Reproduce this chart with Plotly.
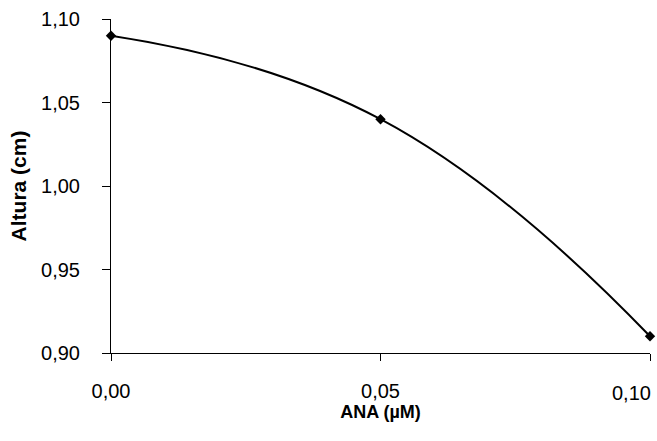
import plotly.graph_objects as go

ana = [0.00, 0.05, 0.10]
altura = [1.09, 1.04, 0.91]
x_ticks = [0.00, 0.05, 0.10]
x_labels = ["0,00", "0,05", ""]
y_ticks = [0.90, 0.95, 1.00, 1.05, 1.10]

fig = go.Figure()
fig.add_trace(go.Scatter(
    x=ana, y=altura, mode="lines+markers",
    line=dict(color="black", width=2, shape="spline", smoothing=1.3),
    marker=dict(symbol="diamond", size=8, color="black"),
    showlegend=False, cliponaxis=False,
))

font = dict(family="Liberation Sans, Arial, sans-serif", color="black")
fig.update_layout(
    template="none",
    width=657, height=441,
    margin=dict(l=111, r=7, t=19, b=88),
    plot_bgcolor="white", paper_bgcolor="white",
    separators=",.",
    font=font,
    xaxis=dict(
        range=[0, 0.10], tickvals=x_ticks, ticktext=x_labels,
        showgrid=False, zeroline=False, showline=True, linecolor="black", linewidth=1,
        ticks="outside", ticklen=7, tickcolor="black", tickwidth=1,
        tickfont=dict(size=20), ticklabelstandoff=13,
        title=dict(text="<b>ANA (µM)</b>", font=dict(size=18), standoff=0),
    ),
    yaxis=dict(
        range=[0.90, 1.10], tickvals=y_ticks, tickformat=".2f",
        showgrid=False, zeroline=False, showline=True, linecolor="black", linewidth=1,
        ticks="outside", ticklen=8, tickcolor="black", tickwidth=1,
        tickfont=dict(size=20), ticklabelstandoff=18,
        title=dict(text="<b>Altura (cm)</b>", font=dict(size=21), standoff=8),
    ),
    annotations=[dict(
        x=x_ticks[-1], y=0, xref="x", yref="paper", text="0,10",
        xanchor="right", yanchor="top", xshift=3, yshift=-27,
        showarrow=False, font=dict(size=20),
    )],
)
fig.update_xaxes(automargin=False)
fig.update_yaxes(automargin=False)
fig.write_html("out.html")
